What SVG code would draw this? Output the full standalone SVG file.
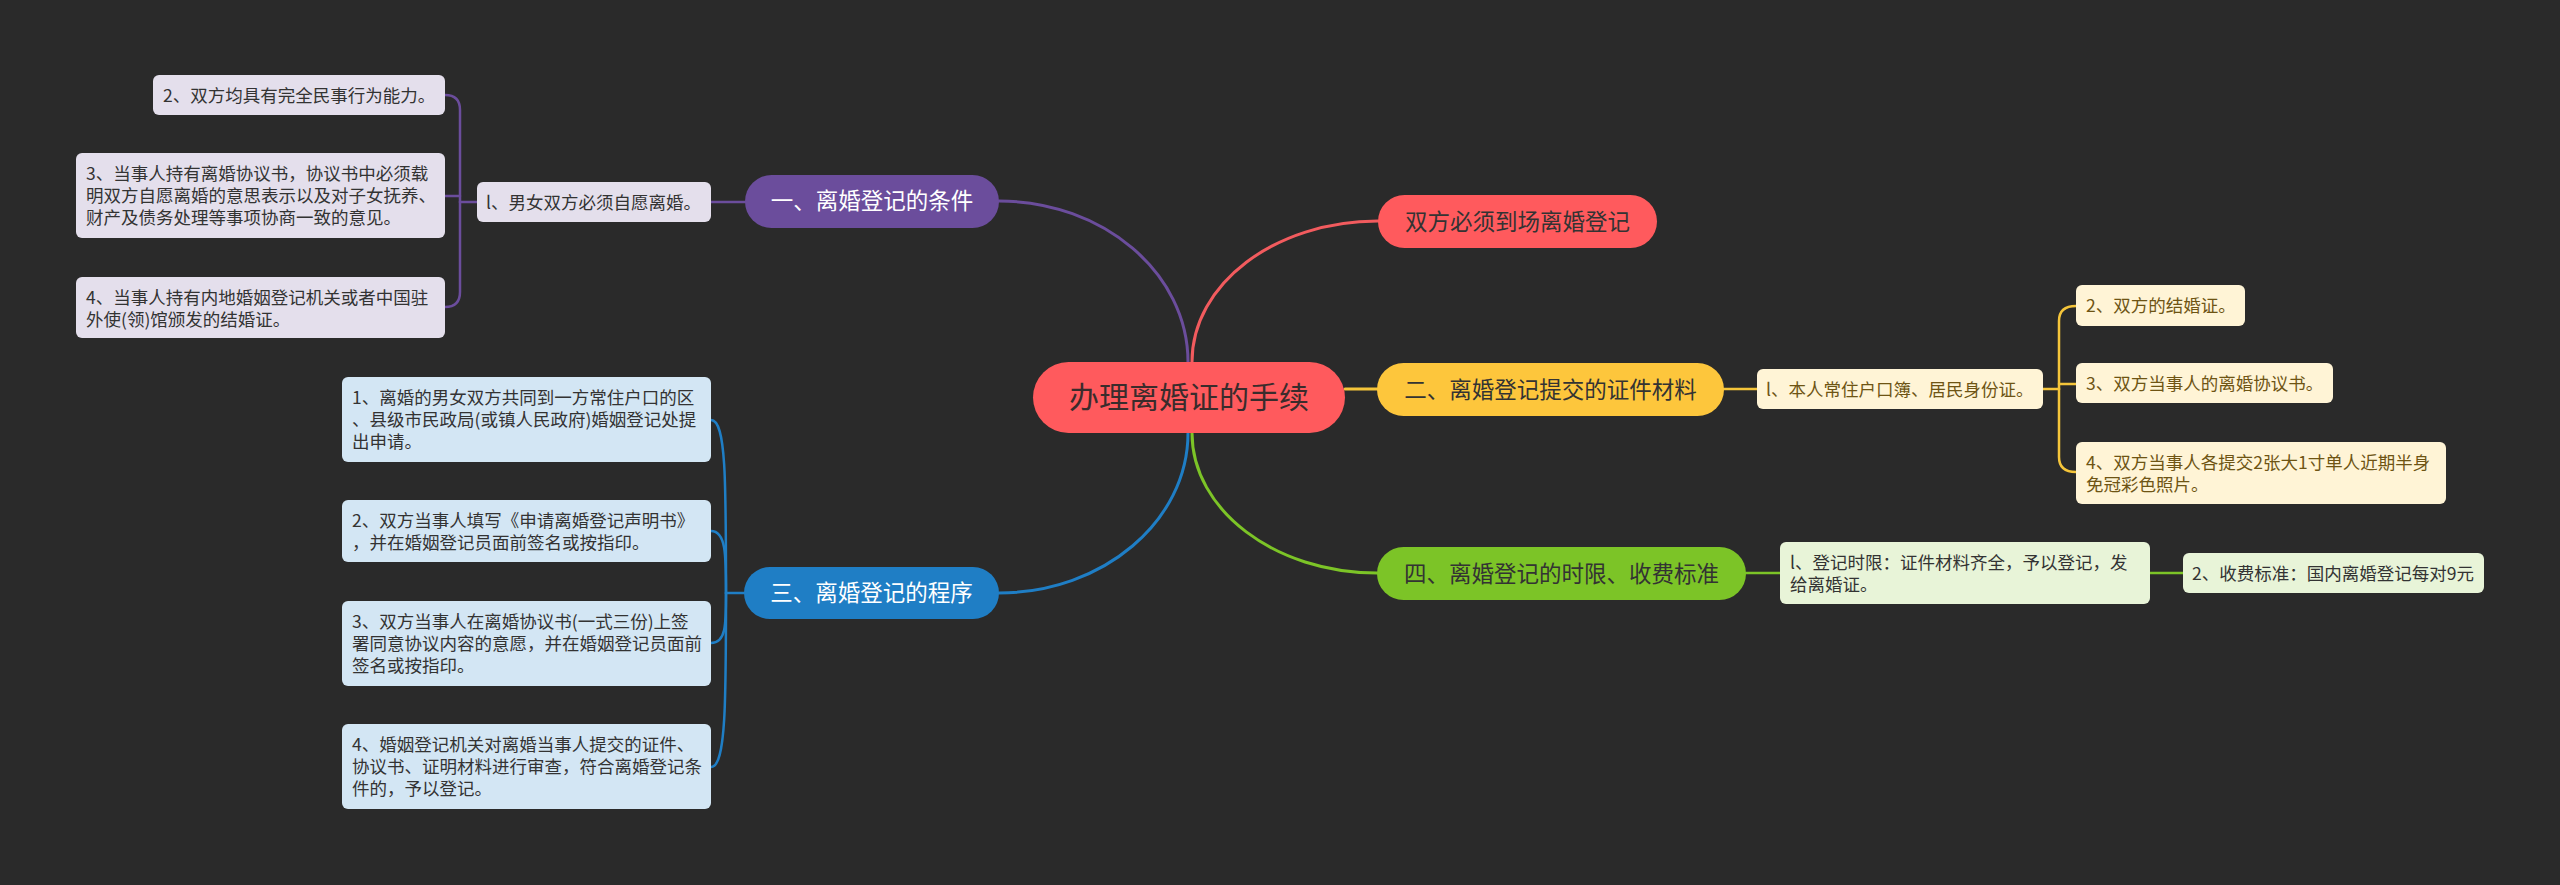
<svg xmlns="http://www.w3.org/2000/svg" width="2560" height="885" viewBox="0 0 2560 885">
<style>
text{font-family:"Noto Sans CJK SC","Noto Sans",sans-serif;}
.c{fill:none;stroke-width:3;stroke-linecap:round}
.s{fill:none;stroke-width:2.5;stroke-linecap:round}
.pu{stroke:#6B4D9C}.re{stroke:#F25B5E}.ye{stroke:#F5C53A}.gr{stroke:#7CC427}.bl{stroke:#1F7EC5}
.t1{font-size:22.5px;text-anchor:middle}
.t2{font-size:17.5px}
.w{fill:#ffffff}.d{fill:#333333}.ol{fill:#6E5414}
.lav{fill:#E4DFEC}.lbl{fill:#D3E6F4}.cre{fill:#FFF4D6}.lgr{fill:#E8F4D8}
</style>
<rect width="2560" height="885" fill="#2A2A2A"/>
<g id="connectors">
<path class="c pu" d="M1188,362 C1188,273 1103,201 999,201"/>
<path class="c re" d="M1192,362 C1192,284 1275,221 1378,221"/>
<path class="c ye" d="M1345,389 L1377,389"/>
<path class="c bl" d="M1188,433 C1188,521 1103,593 999,593"/>
<path class="c gr" d="M1192,433 C1192,510 1275,573 1377,573"/>
<path class="s pu" d="M745,202 L711,202"/>
<path class="s pu" d="M477,202 L460,202"/>
<path class="s pu" d="M460,202 L460,110 Q460,95 445,95"/>
<path class="s pu" d="M460,196 L445,196"/>
<path class="s pu" d="M460,202 L460,292 Q460,307 445,307"/>
<path class="s bl" d="M744,593 L726,593"/>
<path class="s bl" d="M726,593 C726,480 726,420 711,420"/>
<path class="s bl" d="M726,593 C726,555 726,531 711,531"/>
<path class="s bl" d="M726,593 C726,625 726,643 711,643"/>
<path class="s bl" d="M726,593 C726,700 726,767 711,767"/>
<path class="s ye" d="M1724,389 L1757,389"/>
<path class="s ye" d="M2043,389 L2059,389"/>
<path class="s ye" d="M2059,389 L2059,321 Q2059,306 2076,306"/>
<path class="s ye" d="M2059,384 L2076,384"/>
<path class="s ye" d="M2059,389 L2059,457 Q2059,472 2076,472"/>
<path class="s gr" d="M1746,573 L1780,573"/>
<path class="s gr" d="M2150,573 L2183,573"/>
</g>
<g id="center">
<rect x="1033" y="362" width="312" height="71" rx="35.5" fill="#FF5A5D"/>
<text x="1189" y="408" font-size="30" text-anchor="middle" fill="#3A2C2C">办理离婚证的手续</text>
</g>
<g id="b1">
<rect x="745" y="175" width="254" height="53" rx="26.5" fill="#6B4D9C"/>
<text class="t1 w" x="872" y="209">一、离婚登记的条件</text>
</g>
<g id="b1s">
<rect class="lav" x="477" y="182" width="234" height="40" rx="6"/>
<text class="t2 d" x="486" y="208.5">l、男女双方必须自愿离婚。</text>
</g>
<g id="b1a">
<rect class="lav" x="153" y="75" width="292" height="40" rx="6"/>
<text class="t2 d" x="163" y="101.5">2、双方均具有完全民事行为能力。</text>
</g>
<g id="b1b">
<rect class="lav" x="76" y="153" width="369" height="85" rx="6"/>
<text class="t2 d" x="86" y="180">3、当事人持有离婚协议书，协议书中必须载</text>
<text class="t2 d" x="86" y="202">明双方自愿离婚的意思表示以及对子女抚养、</text>
<text class="t2 d" x="86" y="224">财产及债务处理等事项协商一致的意见。</text>
</g>
<g id="b1c">
<rect class="lav" x="76" y="277" width="369" height="61" rx="6"/>
<text class="t2 d" x="86" y="303.5">4、当事人持有内地婚姻登记机关或者中国驻</text>
<text class="t2 d" x="86" y="325.5">外使(领)馆颁发的结婚证。</text>
</g>
<g id="b0">
<rect x="1378" y="195" width="279" height="53" rx="26.5" fill="#FF5A5D"/>
<text class="t1 d" x="1517.5" y="229.5">双方必须到场离婚登记</text>
</g>
<g id="b2">
<rect x="1377" y="363" width="347" height="53" rx="26.5" fill="#FDC63C"/>
<text class="t1 d" x="1550.5" y="397.5">二、离婚登记提交的证件材料</text>
</g>
<g id="b2s">
<rect class="cre" x="1757" y="369" width="286" height="40" rx="6"/>
<text class="t2 ol" x="1766" y="395.5">l、本人常住户口簿、居民身份证。</text>
</g>
<g id="b2a">
<rect class="cre" x="2076" y="285" width="169" height="41" rx="6"/>
<text class="t2 ol" x="2086" y="312">2、双方的结婚证。</text>
</g>
<g id="b2b">
<rect class="cre" x="2076" y="363" width="257" height="40" rx="6"/>
<text class="t2 ol" x="2086" y="389.5">3、双方当事人的离婚协议书。</text>
</g>
<g id="b2c">
<rect class="cre" x="2076" y="442" width="370" height="62" rx="6"/>
<text class="t2 ol" x="2086" y="468.5">4、双方当事人各提交2张大1寸单人近期半身</text>
<text class="t2 ol" x="2086" y="490.5">免冠彩色照片。</text>
</g>
<g id="b3">
<rect x="744" y="567" width="255" height="52" rx="26" fill="#1F7EC5"/>
<text class="t1 w" x="871.5" y="601">三、离婚登记的程序</text>
</g>
<g id="b3a">
<rect class="lbl" x="342" y="377" width="369" height="85" rx="6"/>
<text class="t2 d" x="352" y="404">1、离婚的男女双方共同到一方常住户口的区</text>
<text class="t2 d" x="352" y="426">、县级市民政局(或镇人民政府)婚姻登记处提</text>
<text class="t2 d" x="352" y="448">出申请。</text>
</g>
<g id="b3b">
<rect class="lbl" x="342" y="500" width="369" height="62" rx="6"/>
<text class="t2 d" x="352" y="526.5">2、双方当事人填写《申请离婚登记声明书》</text>
<text class="t2 d" x="352" y="548.5">，并在婚姻登记员面前签名或按指印。</text>
</g>
<g id="b3c">
<rect class="lbl" x="342" y="601" width="369" height="85" rx="6"/>
<text class="t2 d" x="352" y="628">3、双方当事人在离婚协议书(一式三份)上签</text>
<text class="t2 d" x="352" y="650">署同意协议内容的意愿，并在婚姻登记员面前</text>
<text class="t2 d" x="352" y="672">签名或按指印。</text>
</g>
<g id="b3d">
<rect class="lbl" x="342" y="724" width="369" height="85" rx="6"/>
<text class="t2 d" x="352" y="751">4、婚姻登记机关对离婚当事人提交的证件、</text>
<text class="t2 d" x="352" y="773">协议书、证明材料进行审查，符合离婚登记条</text>
<text class="t2 d" x="352" y="795">件的，予以登记。</text>
</g>
<g id="b4">
<rect x="1377" y="547" width="369" height="53" rx="26.5" fill="#7CC427"/>
<text class="t1 d" x="1561.5" y="581.5">四、离婚登记的时限、收费标准</text>
</g>
<g id="b4s">
<rect class="lgr" x="1780" y="542" width="370" height="62" rx="6"/>
<text class="t2 d" x="1790" y="568.5">l、登记时限：证件材料齐全，予以登记，发</text>
<text class="t2 d" x="1790" y="590.5">给离婚证。</text>
</g>
<g id="b4a">
<rect class="lgr" x="2183" y="553" width="301" height="40" rx="6"/>
<text class="t2 d" x="2192" y="579.5">2、收费标准：国内离婚登记每对9元</text>
</g>
</svg>
